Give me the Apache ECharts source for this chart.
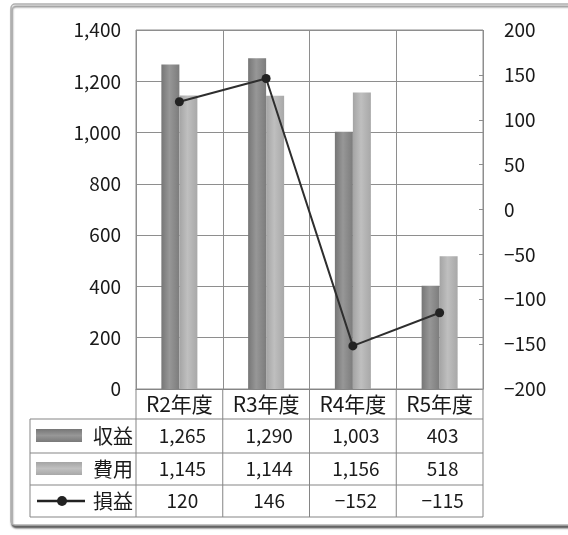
<!DOCTYPE html>
<html><head><meta charset="utf-8">
<script src="https://cdn.jsdelivr.net/npm/echarts@6/dist/echarts.min.js"></script>
<style>html,body{margin:0;padding:0;background:#fff}#c{width:568px;height:535px}</style>
</head><body><div id="c"></div>
<script>
// ---- data ----
const categories = ['R2年度', 'R3年度', 'R4年度', 'R5年度'];
const seriesNames = ['収益', '費用', '損益'];
const revenue = [1265, 1290, 1003, 403];
const expense = [1145, 1144, 1156, 518];
const profit = [120, 146, -152, -115];
const leftAxisRange = [0, 1400, 200];
const rightAxisRange = [-200, 200, 50];

// ---- style ----
const FONT = '"Noto Sans CJK JP", "Noto Sans", sans-serif';
const GRID_COLOR = '#8e8e8e';
const TABLE_COLOR = '#858585';
const TEXT = '#1a1a1a';
const fmt = v => (v < 0 ? '−' : '') + Math.abs(v).toLocaleString('en-US');

const revColor = {type: 'linear', x: 0, y: 0, x2: 1, y2: 0, colorStops: [
  {offset: 0, color: '#767676'}, {offset: 0.45, color: '#979797'}, {offset: 1, color: '#7c7c7c'}]};
const expColor = {type: 'linear', x: 0, y: 0, x2: 1, y2: 0, colorStops: [
  {offset: 0, color: '#a4a4a4'}, {offset: 0.45, color: '#bfbfbf'}, {offset: 1, color: '#a8a8a8'}]};

const chart = echarts.init(document.getElementById('c'), null, {renderer: 'canvas'});
const GRID = {left: 136, right: 85, top: 30, bottom: 146};

chart.setOption({
  animation: false,
  backgroundColor: '#fff',
  textStyle: {fontFamily: FONT},
  grid: Object.assign({show: true, borderColor: GRID_COLOR, borderWidth: 1, backgroundColor: 'transparent'}, GRID),
  xAxis: {
    type: 'category', data: categories,
    axisLine: {show: true, lineStyle: {color: TABLE_COLOR}},
    axisTick: {show: false, interval: 0},
    splitLine: {show: true, interval: 0, lineStyle: {color: GRID_COLOR, width: 1}},
    axisLabel: {color: TEXT, fontSize: 21, fontFamily: FONT, margin: 5, interval: 0, hideOverlap: false}
  },
  yAxis: [{
    type: 'value', min: leftAxisRange[0], max: leftAxisRange[1], interval: leftAxisRange[2],
    axisLine: {show: false}, axisTick: {show: false},
    splitLine: {show: true, lineStyle: {color: GRID_COLOR, width: 1}},
    axisLabel: {color: TEXT, fontSize: 19, fontFamily: FONT, margin: 15, formatter: fmt}
  }, {
    type: 'value', position: 'right', min: rightAxisRange[0], max: rightAxisRange[1], interval: rightAxisRange[2],
    axisLine: {show: false},
    axisTick: {show: true, inside: true, length: 4, lineStyle: {color: GRID_COLOR}},
    splitLine: {show: false},
    axisLabel: {color: TEXT, fontSize: 19, fontFamily: FONT, margin: 21, formatter: fmt}
  }],
  series: [
    {name: seriesNames[0], type: 'bar', data: revenue, barWidth: 18, barGap: '0%', itemStyle: {color: revColor}},
    {name: seriesNames[1], type: 'bar', data: expense, barWidth: 18, barGap: '0%', itemStyle: {color: expColor}},
    {name: seriesNames[2], type: 'line', yAxisIndex: 1, data: profit, symbol: 'circle', symbolSize: 9,
     itemStyle: {color: '#222'}, lineStyle: {color: '#2e2e2e', width: 2}}
  ]
});

// ---- data table (built from the arrays, positioned from the axis) ----
const centers = categories.map((c, i) => chart.convertToPixel({xAxisIndex: 0}, i));
const band = centers.length > 1 ? centers[1] - centers[0] : 80;
const plotLeft = centers[0] - band / 2;
const plotRight = centers[centers.length - 1] + band / 2;
const zeroY = chart.convertToPixel({yAxisIndex: 0}, 0);
const tableLeft = 30;
const rowLines = [zeroY + 30, zeroY + 64, zeroY + 96, zeroY + 128];
const rowsData = [revenue, expense, profit];

const g = [];
// frame
g.push({type: 'rect', shape: {x: 11, y: 4, width: 570, height: 521, r: 4}, z: -10,
  style: {fill: '#fff', stroke: '#b0b0b0', lineWidth: 1.5, shadowColor: 'rgba(0,0,0,0.6)', shadowOffsetX: 1, shadowOffsetY: 2.5, shadowBlur: 2}});
// horizontal table lines
rowLines.forEach((y) => g.push({type: 'line', shape: {x1: tableLeft, y1: y, x2: plotRight, y2: y}, style: {stroke: TABLE_COLOR, lineWidth: 1}}));
// table left border
g.push({type: 'line', shape: {x1: tableLeft, y1: rowLines[0], x2: tableLeft, y2: rowLines[3]}, style: {stroke: TABLE_COLOR, lineWidth: 1}});
// vertical column lines in table
for (let i = 0; i <= categories.length; i++) {
  const x = plotLeft + i * band;
  g.push({type: 'line', shape: {x1: x, y1: zeroY, x2: x, y2: rowLines[3]}, style: {stroke: TABLE_COLOR, lineWidth: 1}});
}
// values + row labels
rowsData.forEach((arr, r) => {
  const cy = (rowLines[r] + rowLines[r + 1]) / 2;
  arr.forEach((v, i) => g.push({type: 'text', x: centers[i] + 3, y: cy,
    style: {text: fmt(v), fill: TEXT, font: '19px ' + FONT, textAlign: 'center', textVerticalAlign: 'middle'}}));
  g.push({type: 'text', x: plotLeft - 3, y: cy,
    style: {text: seriesNames[r], fill: TEXT, font: '20px ' + FONT, textAlign: 'right', textVerticalAlign: 'middle'}});
});
// legend keys
const k0 = (rowLines[0] + rowLines[1]) / 2, k1 = (rowLines[1] + rowLines[2]) / 2, k2 = (rowLines[2] + rowLines[3]) / 2;
g.push({type: 'rect', shape: {x: 36, y: k0 - 7, width: 46, height: 13}, style: {fill: {type: 'linear', x: 0, y: 0, x2: 0, y2: 1, colorStops: [{offset: 0, color: '#767676'}, {offset: 0.5, color: '#979797'}, {offset: 1, color: '#7a7a7a'}]}}});
g.push({type: 'rect', shape: {x: 36, y: k1 - 7, width: 46, height: 13}, style: {fill: {type: 'linear', x: 0, y: 0, x2: 0, y2: 1, colorStops: [{offset: 0, color: '#a4a4a4'}, {offset: 0.5, color: '#c0c0c0'}, {offset: 1, color: '#a8a8a8'}]}}});
g.push({type: 'line', shape: {x1: 37, y1: k2, x2: 85, y2: k2}, style: {stroke: '#222', lineWidth: 2.5}});
g.push({type: 'circle', shape: {cx: 62, cy: k2, r: 5}, style: {fill: '#222'}});

chart.setOption({graphic: g});
</script>
</body></html>
